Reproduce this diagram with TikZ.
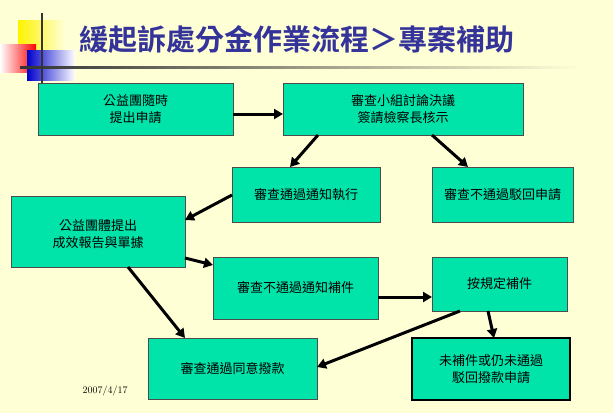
\documentclass[tikz,border=0pt]{standalone}
\usepackage{fontspec}
\newfontfamily\cjk{Noto Sans CJK TC}
\newfontfamily\cjkb{Noto Sans CJK TC Bold}
\usetikzlibrary{arrows.meta}
\definecolor{bg}{HTML}{FFFFD6}
\definecolor{bx}{HTML}{00E4AA}
\definecolor{tt}{HTML}{33339A}
\tikzset{
 box/.style={draw=black!70,fill=bx,line width=0.6pt,font=\cjk\fontsize{13}{17}\selectfont,align=center,inner sep=0pt},
 arr/.style={line width=3pt,-{Triangle[length=9pt,width=10pt]}}
}
\begin{document}
\begin{tikzpicture}[x=1pt,y=-1pt]
\fill[bg] (0,0) rectangle (613,413);
\useasboundingbox (0,0) rectangle (613,413);
\shade[left color=yellow!90!orange,right color=bg] (18,20) rectangle (65,50);
\shade[left color=white,right color=red] (0,44) rectangle (36,72);
\shade[left color=blue!80!black,right color=white] (27,50) rectangle (75,80);
\shade[left color=black!80,right color=bg] (20,66.5) rectangle (580,68.5);
\draw[black!80,line width=1.2pt] (42,13) -- (42,83);
\node[anchor=west,text=tt,font=\cjkb\fontsize{29}{32}\selectfont] (t) at (76,40) {緩起訴處分金作業流程＞專案補助};
\path[box] (38,83) rectangle (233,135) node[midway] (A) {公益團隨時\\提出申請};
\path[box] (283,83) rectangle (523,135) node[midway] (B) {審查小組討論決議\\簽請檢察長核示};
\path[box] (232,167) rectangle (380,222) node[midway] (C) {審查通過通知執行};
\path[box] (432,167) rectangle (573,222) node[midway] (D) {審查不通過駁回申請};
\path[box] (11,196) rectangle (185,267) node[midway,yshift=-3] (E) {公益團體提出\\成效報告與單據};
\path[box] (213,257) rectangle (378,319) node[midway] (F) {審查不通過通知補件};
\path[box] (432,257) rectangle (567,311) node[midway] (G) {按規定補件};
\path[box] (148,338) rectangle (317,399) node[midway] (H) {審查通過同意撥款};
\path[box,line width=1.6pt,draw=black] (412,338) rectangle (570,400) node[midway] (I) {未補件或仍未通過\\駁回撥款申請};
\node[font=\fontsize{10}{12}\selectfont] (d) at (105,391) {2007/4/17};
\coordinate (a1) at (233,114); \coordinate (b1) at (283,114);
\draw[arr] (a1) -- (b1);
\coordinate (b2) at (318,135); \coordinate (c1) at (290,167);
\draw[arr] (b2) -- (c1);
\coordinate (b3) at (432,135); \coordinate (d1) at (468,167);
\draw[arr] (b3) -- (d1);
\coordinate (c2) at (232,195); \coordinate (e1) at (185,220);
\draw[arr] (c2) -- (e1);
\coordinate (e2) at (185,258); \coordinate (f1) at (213,265);
\draw[arr] (e2) -- (f1);
\coordinate (e3) at (128,267); \coordinate (h1) at (185,338);
\draw[arr] (e3) -- (h1);
\coordinate (f2) at (378,297); \coordinate (g1) at (432,297);
\draw[arr] (f2) -- (g1);
\coordinate (g2) at (488,311); \coordinate (i1) at (494,338);
\draw[arr] (g2) -- (i1);
\coordinate (g3) at (460,311); \coordinate (h2) at (317,367);
\draw[arr] (g3) -- (h2);
\end{tikzpicture}
\end{document}
